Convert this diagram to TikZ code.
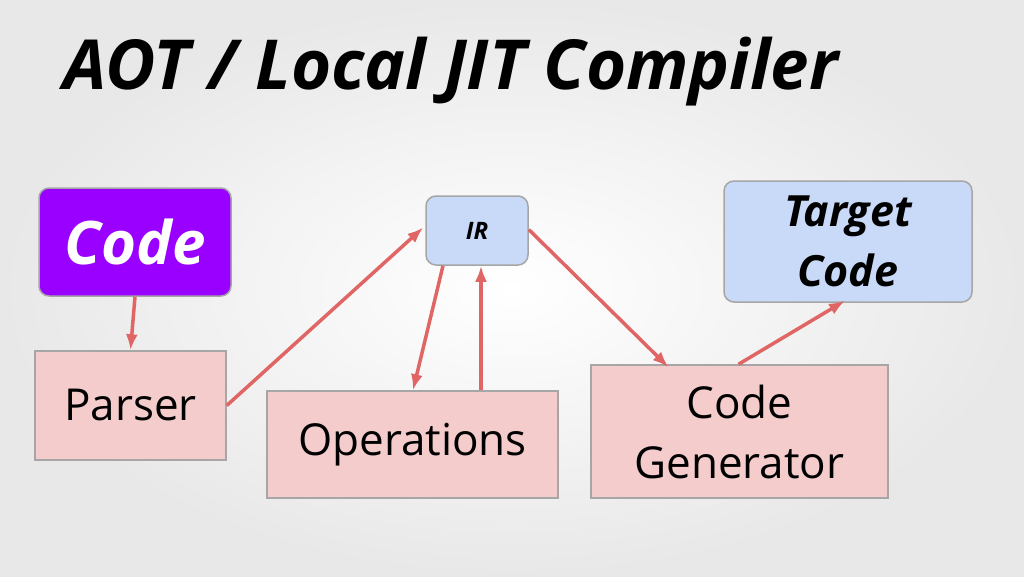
\documentclass[tikz,border=0pt]{standalone}
\usepackage{fontspec}
\setmainfont{Open Sans}
\usetikzlibrary{arrows.meta}
\definecolor{arrowred}{HTML}{E06666}
\definecolor{stagepink}{HTML}{F4CCCC}
\definecolor{irblue}{HTML}{C9DAF8}
\definecolor{codepurple}{HTML}{9900FF}
\tikzset{
  stage/.style={draw=gray!70, fill=stagepink, line width=1.5pt, inner sep=0pt},
  bubble/.style={draw=gray!70, line width=1.5pt, rounded corners=10pt, inner sep=0pt},
  flow/.style={-{Latex[length=16pt,width=12pt]}, arrowred, line width=3.5pt}
}
\begin{document}
\begin{tikzpicture}[x=1pt,y=-1pt]
  \shade[inner color=white, outer color=gray!18] (0,0) rectangle (1024,576);
  \useasboundingbox (0,0) rectangle (1024,576);

  \node[anchor=west, font=\fontsize{69}{76}\selectfont\bfseries\itshape] (title) at (60,72) {AOT / Local JIT Compiler};

  \node[bubble, fill=codepurple, minimum width=192pt, minimum height=108pt, text=white,
        font=\fontsize{60}{66}\selectfont\bfseries\itshape] (code) at (135,242) {Code};
  \node[stage, minimum width=191pt, minimum height=109pt,
        font=\fontsize{44}{50}\selectfont] (parser) at (130.5,405.5) {Parser};
  \node[bubble, fill=irblue, minimum width=102pt, minimum height=69pt,
        font=\fontsize{24}{28}\selectfont\bfseries\itshape] (ir) at (477,230.5) {IR};
  \node[stage, minimum width=291pt, minimum height=107pt,
        font=\fontsize{44}{50}\selectfont] (ops) at (412.5,444.5) {Operations};
  \node[stage, minimum width=297pt, minimum height=133pt, align=center,
        font=\fontsize{44}{60}\selectfont] (gen) at (739.5,431.5) {Code\\Generator};
  \node[bubble, fill=irblue, minimum width=248pt, minimum height=121pt, align=center,
        font=\fontsize{43}{60}\selectfont\bfseries\itshape] (target) at (848,241.5) {Target\\Code};

  \draw[flow] (code.south) -- (parser.north);
  \draw[flow] (parser.east) -- ([xshift=-2pt,yshift=3pt]ir.west);
  \draw[flow] ([xshift=-34pt]ir.south) -- ([xshift=0.5pt]ops.north);
  \draw[flow] ([xshift=68.5pt]ops.north) -- ([xshift=4pt]ir.south);
  \draw[flow] ([yshift=1pt]ir.east) -- ([xshift=-71pt,yshift=-3pt]gen.north);
  \draw[flow] ([xshift=-1pt]gen.north) -- ([xshift=-3pt,yshift=2pt]target.south);
\end{tikzpicture}
\end{document}
